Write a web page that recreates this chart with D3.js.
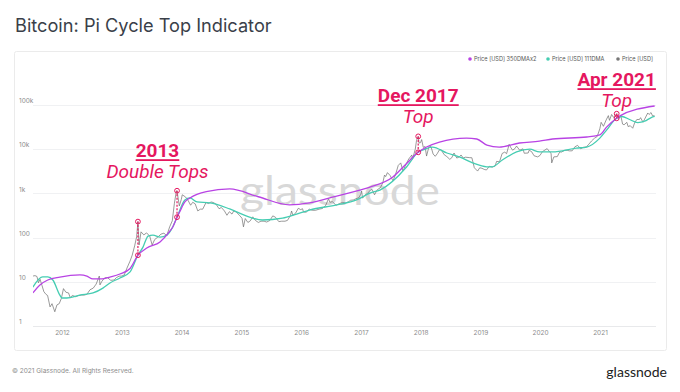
<!DOCTYPE html>
<html><head><meta charset="utf-8">
<script src="https://cdn.jsdelivr.net/npm/d3@7"></script>
<style>html,body{margin:0;padding:0;background:#fff;} svg{display:block;}</style>
</head><body><svg id="c" width="680" height="392"></svg>
<script>
// ---------------- DATA ----------------
const yTickValues = [1, 10, 100, 1000, 10000, 100000];
const yTickLabels = ["1", "10", "100", "1k", "10k", "100k"];
const xTickYears = ["2012","2013","2014","2015","2016","2017","2018","2019","2020","2021"];
const seriesNames = ["Price [USD] 350DMAx2", "Price [USD] 111DMA", "Price [USD]"];

const priceUSD = [
["2011-07-08",13.5],["2011-07-20",13.8],["2011-08-01",13.2],["2011-08-10",9.5],["2011-08-20",11.4],["2011-09-01",8.2],["2011-09-12",6.0],["2011-09-25",5.2],["2011-10-05",4.9],["2011-10-20",2.7],["2011-11-01",3.2],["2011-11-18",2.1],["2011-12-01",3.0],["2011-12-15",3.2],["2011-12-28",4.2],
["2012-01-10",7.0],["2012-01-25",5.8],["2012-02-10",5.6],["2012-02-20",4.4],["2012-03-05",4.9],["2012-03-25",4.6],["2012-04-10",4.9],["2012-04-28",5.0],["2012-05-15",5.0],["2012-06-01",5.2],["2012-06-20",6.6],["2012-07-10",7.2],["2012-07-28",8.9],["2012-08-16",13.5],["2012-08-20",8.5],["2012-09-01",10.3],["2012-09-18",12.3],["2012-10-05",12.4],["2012-10-25",10.8],["2012-11-15",11.0],["2012-11-28",12.4],["2012-12-15",13.4],["2012-12-30",13.5],
["2013-01-15",14.2],["2013-02-01",20.4],["2013-02-20",29.5],["2013-03-05",40],["2013-03-20",65],["2013-04-01",104],["2013-04-09",230],["2013-04-16",68],["2013-04-28",135],["2013-05-15",115],["2013-06-01",128],["2013-06-20",108],["2013-07-05",68],["2013-07-20",90],["2013-08-10",104],["2013-08-28",120],["2013-09-15",126],["2013-10-02",110],["2013-10-20",175],["2013-11-05",240],["2013-11-18",600],["2013-11-30",1130],["2013-12-04",1150],["2013-12-18",520],["2013-12-30",730],
["2014-01-05",930],["2014-01-25",830],["2014-02-10",690],["2014-02-25",540],["2014-03-10",630],["2014-03-25",580],["2014-04-10",400],["2014-04-25",440],["2014-05-10",440],["2014-05-30",620],["2014-06-15",590],["2014-06-30",640],["2014-07-15",620],["2014-07-30",570],["2014-08-18",450],["2014-09-01",480],["2014-09-20",400],["2014-10-05",320],["2014-10-20",385],["2014-11-05",340],["2014-11-15",400],["2014-12-01",380],["2014-12-20",320],
["2015-01-05",275],["2015-01-14",175],["2015-01-25",270],["2015-02-10",220],["2015-02-25",240],["2015-03-12",295],["2015-03-28",245],["2015-04-15",220],["2015-05-01",235],["2015-05-20",235],["2015-06-05",225],["2015-06-25",245],["2015-07-12",310],["2015-07-28",290],["2015-08-18",230],["2015-09-05",235],["2015-09-25",235],["2015-10-10",245],["2015-10-28",315],["2015-11-04",400],["2015-11-12",320],["2015-11-28",355],["2015-12-15",460],["2015-12-30",430],
["2016-01-10",450],["2016-01-16",380],["2016-02-01",375],["2016-02-20",440],["2016-03-10",415],["2016-03-30",415],["2016-04-20",440],["2016-05-10",455],["2016-05-30",530],["2016-06-17",760],["2016-06-25",630],["2016-07-10",650],["2016-08-02",540],["2016-08-20",580],["2016-09-10",625],["2016-09-28",605],["2016-10-15",640],["2016-10-30",700],["2016-11-15",710],["2016-12-01",755],["2016-12-20",800],["2016-12-31",960],
["2017-01-05",1130],["2017-01-11",780],["2017-01-25",910],["2017-02-10",1000],["2017-02-28",1190],["2017-03-10",1230],["2017-03-25",930],["2017-04-10",1200],["2017-04-30",1350],["2017-05-15",1750],["2017-05-25",2600],["2017-06-01",2400],["2017-06-12",2950],["2017-06-28",2550],["2017-07-16",1930],["2017-08-01",2720],["2017-08-17",4300],["2017-09-01",4900],["2017-09-15",3200],["2017-10-01",4400],["2017-10-20",6000],["2017-11-08",7400],["2017-11-12",5900],["2017-11-29",10000],["2017-12-07",16000],["2017-12-17",19500],["2017-12-22",13800],["2017-12-31",14100],
["2018-01-07",16500],["2018-01-17",11000],["2018-01-28",11500],["2018-02-06",7000],["2018-02-20",11200],["2018-03-05",11500],["2018-03-18",7800],["2018-03-31",6900],["2018-04-12",7900],["2018-04-25",9600],["2018-05-05",9800],["2018-05-25",7500],["2018-06-10",6800],["2018-06-28",5900],["2018-07-10",6400],["2018-07-24",8200],["2018-08-10",6300],["2018-08-25",6700],["2018-09-05",7400],["2018-09-18",6300],["2018-10-01",6600],["2018-10-25",6450],["2018-11-10",6400],["2018-11-25",3800],["2018-12-15",3200],["2018-12-28",3800],
["2019-01-10",3700],["2019-01-28",3450],["2019-02-08",3400],["2019-02-24",4100],["2019-03-15",3950],["2019-04-01",4150],["2019-04-10",5300],["2019-04-28",5200],["2019-05-14",8000],["2019-05-30",8600],["2019-06-10",7900],["2019-06-26",12900],["2019-07-05",11000],["2019-07-17",9500],["2019-08-01",10400],["2019-08-10",11800],["2019-08-29",9500],["2019-09-18",10200],["2019-09-26",8100],["2019-10-20",8200],["2019-10-26",9500],["2019-11-10",8800],["2019-11-25",7100],["2019-12-17",6700],["2019-12-31",7200],
["2020-01-15",8800],["2020-02-13",10300],["2020-02-28",8700],["2020-03-08",8100],["2020-03-12",4900],["2020-03-25",6700],["2020-04-15",6800],["2020-04-30",8700],["2020-05-10",8600],["2020-05-31",9450],["2020-06-15",9400],["2020-06-30",9150],["2020-07-15",9200],["2020-07-31",11300],["2020-08-17",12200],["2020-09-05",10200],["2020-09-20",11000],["2020-10-10",11300],["2020-10-25",13000],["2020-11-10",15300],["2020-11-28",17700],["2020-12-15",19400],["2020-12-31",29000],
["2021-01-08",40500],["2021-01-22",33000],["2021-02-08",46000],["2021-02-21",57500],["2021-02-28",45000],["2021-03-13",61000],["2021-03-25",52300],["2021-04-05",58800],["2021-04-13",63500],["2021-04-25",49000],["2021-05-08",58000],["2021-05-19",37000],["2021-05-28",35600],["2021-06-14",40500],["2021-06-22",32500],["2021-07-05",34000],["2021-07-20",29800],["2021-08-01",39800],["2021-08-14",47000],["2021-08-30",47000],["2021-09-06",51700],["2021-09-21",40700],["2021-10-01",48000],["2021-10-20",66000],["2021-10-28",61000],["2021-11-09",67500],["2021-11-18",56900],["2021-11-28",57300],["2021-12-01",56000]
];

const dma350x2 = [
["2011-07-07",5.6],["2011-08-19",8.5],["2011-10-06",11],["2011-12-19",12.8],["2012-04-20",14.3],["2012-06-01",13.5],["2012-07-07",11.6],["2012-09-01",11.6],["2012-10-20",12.8],["2012-12-20",15],["2013-02-20",20],["2013-04-09",40],["2013-06-02",58],["2013-08-22",80],["2013-10-21",140],["2013-11-08",174],["2013-12-04",290],["2013-12-20",380],["2014-01-21",640],["2014-02-21",790],["2014-06-01",1100],["2014-10-22",1260],["2015-04-15",840],["2015-10-22",550],["2016-02-22",610],["2016-06-30",800],["2016-12-25",1190],["2017-02-25",1390],["2017-07-15",2350],["2017-10-01",4500],["2017-12-16",8500],["2018-02-06",11200],["2018-04-26",14500],["2018-10-08",17800],["2018-12-10",17000],["2019-02-10",12400],["2019-04-26",11200],["2019-08-28",13800],["2019-12-28",15200],["2020-03-17",17000],["2020-10-12",18900],["2020-12-31",21000],["2021-02-10",31600],["2021-04-12",50000],["2021-04-30",56000],["2021-12-01",95000]
];

const dma111 = [
["2011-07-07",7.6],["2011-09-05",12.9],["2011-10-06",12.9],["2011-11-06",11],["2011-12-19",5.0],["2012-01-01",4.3],["2012-01-30",4.3],["2012-04-20",5.0],["2012-07-09",5.6],["2012-09-07",7.2],["2012-10-20",9.4],["2012-12-20",12.2],["2013-02-20",16.7],["2013-04-09",40],["2013-05-10",61],["2013-06-10",108],["2013-07-10",114],["2013-08-22",103],["2013-10-03",114],["2013-11-08",174],["2013-12-04",290],["2014-01-21",710],["2014-02-21",790],["2014-04-05",640],["2014-06-23",610],["2014-10-22",445],["2015-02-20",290],["2015-05-10",250],["2015-09-10",275],["2015-12-05",340],["2016-02-22",420],["2016-08-07",550],["2016-12-05",710],["2017-02-25",1020],["2017-04-27",1190],["2017-10-08",4000],["2017-12-16",8500],["2018-01-14",9600],["2018-03-14",11200],["2018-06-10",8200],["2018-08-29",6600],["2018-11-14",4900],["2019-02-09",4000],["2019-03-14",4000],["2019-05-15",5700],["2019-08-10",8700],["2019-10-30",10000],["2019-12-28",8700],["2020-03-17",8700],["2020-08-10",10600],["2020-10-12",11200],["2020-12-31",17800],["2021-02-10",27000],["2021-04-12",50000],["2021-05-15",55000],["2021-07-01",47000],["2021-08-20",40000],["2021-10-01",43000],["2021-11-10",52000],["2021-12-01",55000]
];

const cycleTopDates = ["2013-04-09", "2013-12-04", "2017-12-17", "2021-04-13"];
const cycleTopPrices = [230, 1150, 19500, 63500];
const cycleCrossValues = [40, 290, 8500, 50000];
const annotationTitles = ["2013", "Dec 2017", "Apr 2021"];
const annotationSubtitles = ["Double Tops", "Top", "Top"];

// ---------------- DRAW ----------------
const parse = d3.utcParse("%Y-%m-%d");
const svg = d3.select("#c");
const plotL = 33, plotR = 656;

const x = d3.scaleUtc()
  .domain([parse("2012-01-01"), parse("2021-01-01")])
  .range([62, 600]);
const y = d3.scaleLog().domain([1, 100000]).range([326, 105]);

const colors = { purple: "#b843e4", teal: "#45cdb2", price: "#6e6e6e", pink: "#e5175f" };
const font = "Inter, Roboto, 'Noto Sans', sans-serif";

// title
svg.append("text").attr("x", 15).attr("y", 32)
  .attr("font-family", font).attr("font-size", 18.2).attr("fill", "#3a3f49")
  .text("Bitcoin: Pi Cycle Top Indicator");

// panel
svg.append("rect").attr("x", 14.5).attr("y", 51.5).attr("width", 652).attr("height", 299)
  .attr("rx", 2).attr("fill", "#fff").attr("stroke", "#ebebeb");

// grid
svg.append("g").selectAll("line").data(yTickValues).join("line")
  .attr("x1", plotL).attr("x2", plotR)
  .attr("y1", d => Math.round(y(d)) + 0.5).attr("y2", d => Math.round(y(d)) + 0.5)
  .attr("stroke", d => d === 1 ? "#e8e9eb" : "#f0f1f3").attr("stroke-width", 1);

// y axis labels
const yAxis = d3.axisRight(y).tickValues(yTickValues)
  .tickFormat((d, i) => yTickLabels[i]).tickSize(0).tickPadding(0);
const gy = svg.append("g").attr("transform", "translate(19,0)").call(yAxis);
gy.select(".domain").remove();
gy.selectAll("text").attr("font-family", font).attr("font-size", 6.5)
  .attr("fill", "#8c8c8c").attr("dy", "-0.35em").attr("x", 0);

// x axis labels
const xAxis = d3.axisBottom(x).tickValues(xTickYears.map(s => parse(s + "-01-01")))
  .tickFormat(d3.utcFormat("%Y")).tickSize(0).tickPadding(4);
const gx = svg.append("g").attr("transform", "translate(0,326)").call(xAxis);
gx.select(".domain").remove();
gx.selectAll("text").attr("font-family", font).attr("font-size", 6.5).attr("fill", "#8c8c8c");

// watermark
svg.append("text").attr("x", 340).attr("y", 205).attr("text-anchor", "middle")
  .attr("font-family", "Lato, 'Open Sans', sans-serif").attr("font-size", 40)
  .attr("fill", "#d8d8d8").attr("textLength", 200).attr("lengthAdjust", "spacingAndGlyphs")
  .text("glassnode");

// clip
svg.append("defs").append("clipPath").attr("id", "plotclip")
  .append("rect").attr("x", plotL).attr("y", 52).attr("width", plotR - plotL).attr("height", 280);

const lineGen = d3.line().x(d => x(parse(d[0]))).y(d => y(d[1]));
const smoothGen = d3.line().x(d => x(parse(d[0]))).y(d => y(d[1])).curve(d3.curveMonotoneX);
const gl = svg.append("g").attr("clip-path", "url(#plotclip)");

gl.append("path").datum(priceUSD).attr("d", lineGen)
  .attr("fill", "none").attr("stroke", colors.price).attr("stroke-width", 0.7);
gl.append("path").datum(dma111).attr("d", smoothGen)
  .attr("fill", "none").attr("stroke", colors.teal).attr("stroke-width", 1.3);
gl.append("path").datum(dma350x2).attr("d", smoothGen)
  .attr("fill", "none").attr("stroke", colors.purple).attr("stroke-width", 1.3);

// cycle top markers
const mk = svg.append("g");
cycleTopDates.forEach((ds, i) => {
  const cx = x(parse(ds));
  const yt = y(cycleTopPrices[i]), yb = y(cycleCrossValues[i]);
  mk.append("line").attr("x1", cx).attr("x2", cx).attr("y1", yt).attr("y2", yb)
    .attr("stroke", colors.pink).attr("stroke-width", 1.2).attr("stroke-dasharray", "2,1.5");
  [yt, yb].forEach(yy => {
    mk.append("circle").attr("cx", cx).attr("cy", yy).attr("r", 2.4)
      .attr("fill", "none").attr("stroke", colors.pink).attr("stroke-width", 1);
  });
});

// annotations
const annCenters = [
  (x(parse(cycleTopDates[0])) + x(parse(cycleTopDates[1]))) / 2,
  x(parse(cycleTopDates[2])),
  x(parse(cycleTopDates[3]))
];
const annTitleY = [157, 102, 86];
const annSubY = [178, 123, 107];
const ag = svg.append("g");
annotationTitles.forEach((t, i) => {
  const tt = ag.append("text").attr("x", annCenters[i]).attr("y", annTitleY[i])
    .attr("text-anchor", "middle").attr("font-family", "Roboto, sans-serif")
    .attr("font-weight", 700).attr("font-size", 19).attr("fill", colors.pink).text(t);
  const bb = tt.node().getBBox();
  ag.append("rect").attr("x", bb.x).attr("y", annTitleY[i] + 2.2).attr("width", bb.width).attr("height", 1.8)
    .attr("fill", colors.pink);
  ag.append("text").attr("x", annCenters[i]).attr("y", annSubY[i])
    .attr("text-anchor", "middle").attr("font-family", "Roboto, sans-serif")
    .attr("font-style", "italic").attr("font-size", 19).attr("fill", colors.pink)
    .text(annotationSubtitles[i]);
});

// legend
const legColors = [colors.purple, colors.teal, "#777"];
const legX = [470, 548, 618];
const lg = svg.append("g");
seriesNames.forEach((n, i) => {
  lg.append("circle").attr("cx", legX[i]).attr("cy", 59).attr("r", 1.8).attr("fill", legColors[i]);
  lg.append("text").attr("x", legX[i] + 4).attr("y", 61).attr("font-family", font)
    .attr("font-size", 5.6).attr("fill", "#555").text(n);
});

// footer
svg.append("text").attr("x", 12).attr("y", 373).attr("font-family", font)
  .attr("font-size", 6.5).attr("fill", "#8c8c8c").text("© 2021 Glassnode. All Rights Reserved.");
svg.append("text").attr("x", 667).attr("y", 377).attr("text-anchor", "end")
  .attr("font-family", "Lato, 'Open Sans', sans-serif").attr("font-size", 14).attr("fill", "#222")
  .text("glassnode");
</script>
</body></html>
